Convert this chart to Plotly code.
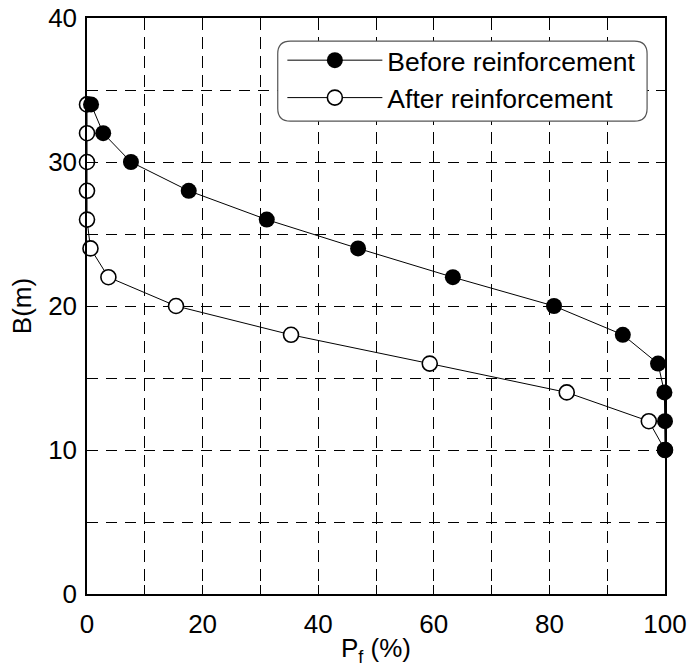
import plotly.graph_objects as go

B = [34, 32, 30, 28, 26, 24, 22, 20, 18, 16, 14, 12, 10]
pf_before = [0.7, 2.8, 7.6, 17.6, 31.1, 46.9, 63.3, 80.8, 92.7, 98.8, 99.9, 100, 100]
pf_after = [0, 0, 0, 0, 0, 0.6, 3.7, 15.4, 35.3, 59.3, 83.0, 97.2, 100]

FONT = "Liberation Sans, Arial, Helvetica, sans-serif"
TICK_FONT = dict(size=26, color="black", family=FONT)

fig = go.Figure()
fig.add_trace(go.Scatter(
    x=pf_after, y=B, mode="lines+markers", name="After reinforcement",
    line=dict(color="black", width=1),
    marker=dict(symbol="circle", size=15, color="white", line=dict(color="black", width=1.6)),
    cliponaxis=False, legendrank=2,
))
fig.add_trace(go.Scatter(
    x=pf_before, y=B, mode="lines+markers", name="Before reinforcement",
    line=dict(color="black", width=1),
    marker=dict(symbol="circle", size=16, color="black", line=dict(color="black", width=0)),
    cliponaxis=False, legendrank=1,
))

axis_common = dict(
    showline=True, linecolor="black", linewidth=1.5, mirror="ticks",
    ticks="inside", ticklen=9, tickcolor="black", tickwidth=1,
    showgrid=True, gridcolor="black", gridwidth=1,
    zeroline=False, tickfont=TICK_FONT, automargin=False,
    ticklabeloverflow="allow",
)

fig.update_xaxes(range=[0, 100], dtick=20, tick0=0,
                 griddash="12px,7px", ticklabelstandoff=6,
                 minor=dict(dtick=10, tick0=0, showgrid=True, gridcolor="black", gridwidth=1,
                            griddash="12px,7px", ticks="inside", ticklen=9, tickcolor="black"),
                 title=dict(text="P<sub>f</sub> (%)", font=dict(size=26, color="black", family=FONT), standoff=1),
                 **axis_common)
fig.update_yaxes(range=[0, 40], dtick=10, tick0=0,
                 griddash="11px,8px", ticklabelstandoff=3,
                 minor=dict(dtick=5, tick0=0, showgrid=True, gridcolor="black", gridwidth=1,
                            griddash="11px,8px", ticks="inside", ticklen=9, tickcolor="black"),
                 title=dict(text="B(m)", font=dict(size=26, color="black", family=FONT), standoff=9),
                 **axis_common)

# rounded legend frame (paper coordinates)
x0, x1, y0, y1 = 0.330, 0.969, 0.821, 0.960
rx, ry = 0.022, 0.022
path = (f"M {x0+rx},{y1} L {x1-rx},{y1} Q {x1},{y1} {x1},{y1-ry} "
        f"L {x1},{y0+ry} Q {x1},{y0} {x1-rx},{y0} L {x0+rx},{y0} "
        f"Q {x0},{y0} {x0},{y0+ry} L {x0},{y1-ry} Q {x0},{y1} {x0+rx},{y1} Z")
fig.add_shape(type="path", path=path, xref="paper", yref="paper",
              line=dict(color="#555555", width=1.2), fillcolor="white", layer="above")

fig.update_layout(
    width=691, height=670,
    margin=dict(l=87, r=26, t=18, b=76),
    plot_bgcolor="white", paper_bgcolor="white",
    font=dict(family=FONT, color="black"),
    legend=dict(x=0.338, y=0.968, xanchor="left", yanchor="top",
                font=dict(size=26.5, color="black", family=FONT),
                bgcolor="rgba(0,0,0,0)", borderwidth=0, itemwidth=95,
                traceorder="normal"),
    showlegend=True,
)

fig.write_html("out.html", config={"displayModeBar": False},
               post_script="document.body.style.margin='0px';")
